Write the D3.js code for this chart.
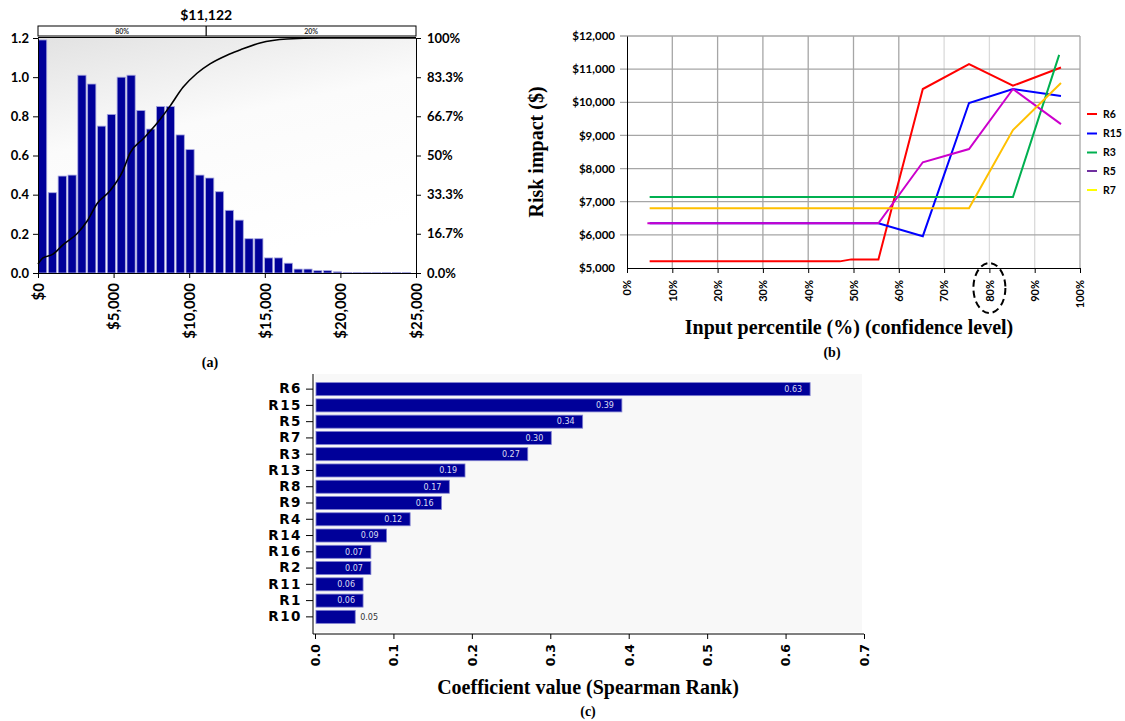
<!DOCTYPE html>
<html>
<head>
<meta charset="utf-8">
<script src="https://cdn.jsdelivr.net/npm/d3@7"></script>
<style>
  html, body { margin: 0; padding: 0; background: #fff; }
  svg { display: block; }
</style>
</head>
<body>
<svg id="fig" width="1125" height="721"></svg>
<script>
// ---------- Panel (a): simulated total risk cost distribution ----------
const histBinWidth = 650;               // $ per histogram bin
const histValues = [1.19, 0.41, 0.495, 0.50, 1.01, 0.965, 0.75, 0.81, 1.00, 1.01,
                    0.83, 0.735, 0.85, 0.85, 0.705, 0.63, 0.50, 0.485, 0.415, 0.32,
                    0.27, 0.175, 0.175, 0.077, 0.077, 0.05, 0.02, 0.02, 0.012, 0.012,
                    0.006, 0.003, 0.003, 0.003, 0.003, 0.003, 0.003, 0.003];
const cdfCost = [0, 331, 992, 1653, 2579, 3241, 3902, 4762, 5622, 6085, 6944, 7870,
                 8730, 9590, 10516, 11376, 12500, 13360, 14683, 16468, 18651, 25000];
const cdfPct  = [3.8, 6.4, 8, 12, 16.7, 22, 29.5, 35, 43.6, 51, 57, 63.7,
                 71, 79, 85, 89, 92.7, 94.9, 97.9, 99.6, 100, 100];
const costTicks = [0, 5000, 10000, 15000, 20000, 25000];
const densityTicks = [0, 0.2, 0.4, 0.6, 0.8, 1.0, 1.2];
const cumTicks = [0, 16.7, 33.3, 50, 66.7, 83.3, 100];
const cumTickLabels = ["0.0%", "16.7%", "33.3%", "50%", "66.7%", "83.3%", "100%"];
const delimiterValue = 11122;
const delimiterLabels = ["80%", "20%"];

// ---------- Panel (b): risk impact vs input percentile ----------
const risks = ["R6", "R15", "R3", "R5", "R7"];
const riskPct = {
  R6:  [5, 47, 49.5, 55.5, 65.3, 75.5, 85.2, 95.8],
  R15: [5, 55.5, 65.3, 75.5, 85.2, 95.8],
  R3:  [5, 85.2, 95.4],
  R5:  [4.5, 55.5, 65.3, 75.5, 85.2, 95.8],
  R7:  [5, 75.5, 85.2, 95.8]
};
const riskImpact = {
  R6:  [5200, 5200, 5260, 5260, 10400, 11150, 10500, 11050],
  R15: [6350, 6350, 5960, 9980, 10400, 10190],
  R3:  [7140, 7140, 11430],
  R5:  [6350, 6350, 8190, 8590, 10400, 9340],
  R7:  [6800, 6800, 9160, 10580]
};
const lineColors   = { R6: "#ff0000", R15: "#0000ff", R3: "#00b050", R5: "#cc00cc", R7: "#ffc000" };
const legendColors = { R6: "#ff0000", R15: "#0000ff", R3: "#00b050", R5: "#7030a0", R7: "#ffff00" };
const pctTicks = [0, 10, 20, 30, 40, 50, 60, 70, 80, 90, 100];
const impactTicks = [5000, 6000, 7000, 8000, 9000, 10000, 11000, 12000];
const highlightPct = 80;

// ---------- Panel (c): Spearman rank coefficients ----------
const sensRisks = ["R6", "R15", "R5", "R7", "R3", "R13", "R8", "R9", "R4", "R14", "R16", "R2", "R11", "R1", "R10"];
const sensValues = [0.63, 0.39, 0.34, 0.30, 0.27, 0.19, 0.17, 0.16, 0.12, 0.09, 0.07, 0.07, 0.06, 0.06, 0.05];
const coefTicks = [0, 0.1, 0.2, 0.3, 0.4, 0.5, 0.6, 0.7];

const svg = d3.select("#fig");
const defs = svg.append("defs");
const SANS = "Lato, 'Open Sans', sans-serif";
const SERIF = "'Times New Roman', 'Liberation Serif', Times, serif";
const NAVY = "#000099";

function styleAxis(g, size, color) {
  g.select(".domain").attr("stroke", color || "#000");
  g.selectAll(".tick line").attr("stroke", color || "#000");
  g.selectAll(".tick text").attr("fill", "#000")
    .style("font-family", SANS).style("font-weight", "bold").style("font-size", size + "px");
}

function serifText(g, x, y, size, str, rotate) {
  const t = g.append("text").attr("text-anchor", "middle")
    .attr("font-family", SERIF).attr("font-weight", "bold").attr("font-size", size)
    .text(str);
  if (rotate) t.attr("transform", `translate(${x},${y}) rotate(-90)`);
  else t.attr("x", x).attr("y", y);
  return t;
}

// ======================= Panel (a) =======================
(function () {
  const x = d3.scaleLinear().domain([0, 25000]).range([38, 416]);
  const y = d3.scaleLinear().domain([0, 1.2]).range([273, 38]);
  const yCum = d3.scaleLinear().domain([0, 100]).range([273, 38]);
  const g = svg.append("g");

  const grad = defs.append("linearGradient").attr("id", "bgA")
    .attr("x1", "0").attr("y1", "0").attr("x2", "0.35").attr("y2", "1");
  grad.append("stop").attr("offset", "0%").attr("stop-color", "#e2e2e2");
  grad.append("stop").attr("offset", "45%").attr("stop-color", "#fbfbfb");
  grad.append("stop").attr("offset", "100%").attr("stop-color", "#ffffff");
  g.append("rect").attr("x", x(0)).attr("y", y(1.2)).attr("width", x(25000) - x(0))
    .attr("height", y(0) - y(1.2)).attr("fill", "url(#bgA)");

  // histogram
  g.selectAll("rect.bin").data(histValues).join("rect").attr("class", "bin")
    .attr("x", (d, i) => x(i * histBinWidth) + 0.5)
    .attr("width", (d, i) => x((i + 1) * histBinWidth) - x(i * histBinWidth) - 1.6)
    .attr("y", d => y(d)).attr("height", d => y(0) - y(d))
    .attr("fill", NAVY).attr("stroke", "#a7a7e0").attr("stroke-width", 0.8);

  // cumulative curve
  const cdf = cdfCost.map((c, i) => [c, cdfPct[i]]);
  g.append("path").datum(cdf)
    .attr("d", d3.line().x(d => x(d[0])).y(d => yCum(d[1])).curve(d3.curveMonotoneX))
    .attr("fill", "none").attr("stroke", "#000").attr("stroke-width", 1.6);

  // axes
  const ax = g.append("g").attr("transform", `translate(0,${y(0)})`)
    .call(d3.axisBottom(x).tickValues(costTicks).tickSize(5).tickFormat(d => "$" + d3.format(",")(d)));
  styleAxis(ax, 15);
  ax.selectAll(".tick text").attr("transform", "rotate(-90)").attr("x", -10).attr("y", 0)
    .attr("dy", "0.35em").style("text-anchor", "end");

  const ay = g.append("g").attr("transform", `translate(${x(0)},0)`)
    .call(d3.axisLeft(y).tickValues(densityTicks).tickSize(5).tickPadding(4).tickFormat(d3.format(".1f")));
  styleAxis(ay, 13);

  const ar = g.append("g").attr("transform", `translate(${x(25000)},0)`)
    .call(d3.axisRight(yCum).tickValues(cumTicks).tickSize(5).tickPadding(6)
      .tickFormat((d, i) => cumTickLabels[i]));
  styleAxis(ar, 13);

  // delimiter strip
  const xd = x(delimiterValue);
  g.append("rect").attr("x", x(0)).attr("y", 26).attr("width", x(25000) - x(0)).attr("height", 10)
    .attr("fill", "#fff").attr("stroke", "#000").attr("stroke-width", 1);
  g.append("line").attr("x1", xd).attr("x2", xd).attr("y1", 26).attr("y2", 36)
    .attr("stroke", "#000").attr("stroke-width", 1.2);
  g.append("line").attr("x1", x(0)).attr("x2", x(25000)).attr("y1", 37.5).attr("y2", 37.5)
    .attr("stroke", "#000").attr("stroke-width", 1);
  [[x(0), xd], [xd, x(25000)]].forEach((seg, i) => {
    g.append("text").attr("x", (seg[0] + seg[1]) / 2).attr("y", 34).attr("text-anchor", "middle")
      .style("font-family", SANS).style("font-size", "7px").style("font-weight", "bold").attr("fill", "#333")
      .text(delimiterLabels[i]);
  });
  g.append("text").attr("x", xd).attr("y", 20).attr("text-anchor", "middle")
    .style("font-family", SANS).style("font-size", "14px").style("font-weight", "bold")
    .text("$" + d3.format(",")(delimiterValue));

  serifText(g, 210, 367, 14, "(a)");
})();

// ======================= Panel (b) =======================
(function () {
  const x = d3.scaleLinear().domain([0, 100]).range([627, 1080]);
  const y = d3.scaleLinear().domain([5000, 12000]).range([268, 36]);
  const g = svg.append("g");

  // gridlines
  g.selectAll("line.vg").data(pctTicks.slice(1)).join("line").attr("class", "vg")
    .attr("x1", d => x(d)).attr("x2", d => x(d)).attr("y1", y(12000)).attr("y2", y(5000))
    .attr("stroke", d => (d >= 70 && d < 100) ? "#dadada" : "#a6a6a6").attr("stroke-width", 1.3);
  g.selectAll("line.hg").data(impactTicks.slice(1)).join("line").attr("class", "hg")
    .attr("x1", x(0) - 7).attr("x2", x(100)).attr("y1", d => y(d)).attr("y2", d => y(d))
    .attr("stroke", "#a6a6a6").attr("stroke-width", 1.3);

  // series
  risks.forEach(r => {
    const pts = riskPct[r].map((p, i) => [p, riskImpact[r][i]]);
    g.append("path").datum(pts)
      .attr("d", d3.line().x(d => x(d[0])).y(d => y(d[1])))
      .attr("fill", "none").attr("stroke", lineColors[r]).attr("stroke-width", 2);
  });

  // axes
  const ax = g.append("g").attr("transform", `translate(0,${y(5000)})`)
    .call(d3.axisBottom(x).tickValues(pctTicks).tickSize(5).tickFormat(d => d + "%"));
  styleAxis(ax, 11);
  ax.selectAll(".tick text").attr("transform", "rotate(-90)").attr("x", -12).attr("y", 0)
    .attr("dy", "0.35em").style("text-anchor", "end");

  const ay = g.append("g").attr("transform", `translate(${x(0)},0)`)
    .call(d3.axisLeft(y).tickValues(impactTicks).tickSize(0).tickPadding(12)
      .tickFormat(d => "$" + d3.format(",")(d)));
  styleAxis(ay, 11.5);

  // highlighted percentile
  g.append("ellipse").attr("cx", x(highlightPct)).attr("cy", 288).attr("rx", 16).attr("ry", 25)
    .attr("fill", "none").attr("stroke", "#000").attr("stroke-width", 2).attr("stroke-dasharray", "7,4");

  // legend
  const lg = g.append("g");
  risks.forEach((r, i) => {
    const ly = [114, 133.5, 152.5, 171, 190][i];
    lg.append("line").attr("x1", 1087).attr("x2", 1097).attr("y1", ly).attr("y2", ly)
      .attr("stroke", legendColors[r]).attr("stroke-width", 2);
    lg.append("text").attr("x", 1103).attr("y", ly).attr("dy", "0.35em")
      .style("font-family", SANS).style("font-size", "10.5px").style("font-weight", "bold").text(r);
  });

  // titles
  serifText(g, 543, 152, 20, "Risk impact ($)", true);
  serifText(g, 849, 334, 20, "Input percentile (%) (confidence level)");
  serifText(g, 832, 357, 14, "(b)");
})();

// ======================= Panel (c) =======================
(function () {
  const x = d3.scaleLinear().domain([0, 0.7]).range([315, 864]);
  const y = d3.scaleBand().domain(sensRisks).range([381, 625]).paddingInner(0.2).paddingOuter(0.1);
  const g = svg.append("g");

  g.append("rect").attr("x", 315).attr("y", 374).attr("width", 547).attr("height", 258)
    .attr("fill", "#f8f8f8");

  const data = sensRisks.map((r, i) => ({ r, v: sensValues[i] }));
  g.selectAll("rect.bar").data(data).join("rect").attr("class", "bar")
    .attr("x", x(0) + 1).attr("y", d => y(d.r)).attr("height", y.bandwidth())
    .attr("width", d => x(d.v) - x(0))
    .attr("fill", NAVY).attr("stroke", "#7f7fd0").attr("stroke-width", 0.8);

  g.selectAll("text.val").data(data).join("text").attr("class", "val")
    .attr("x", d => d.r === "R10" ? x(d.v) + 6 : x(d.v) - 7)
    .attr("y", d => y(d.r) + y.bandwidth() / 2).attr("dy", "0.35em")
    .attr("text-anchor", d => d.r === "R10" ? "start" : "end")
    .attr("fill", d => d.r === "R10" ? "#333" : "#dcdcf2")
    .style("font-family", "'DejaVu Sans', sans-serif").style("font-size", "8px")
    .text(d => d3.format(".2f")(d.v));

  const ay = g.append("g").attr("transform", `translate(313,0)`)
    .call(d3.axisLeft(y).tickSize(7).tickPadding(4).tickSizeOuter(0));
  styleAxis(ay, 13.5);
  ay.select(".domain").attr("d", "M0,374V634");
  ay.selectAll(".tick text").style("font-family", "'DejaVu Sans', sans-serif").style("letter-spacing", "1.5px");

  const ax = g.append("g").attr("transform", `translate(0,634)`)
    .call(d3.axisBottom(x).tickValues(coefTicks).tickSize(5).tickSizeOuter(0).tickFormat(d3.format(".1f")));
  styleAxis(ax, 12.5);
  ax.select(".domain").attr("d", "M313,0H864");
  ax.selectAll(".tick text").style("font-family", "'DejaVu Sans', sans-serif")
    .attr("transform", "rotate(-90)").attr("x", -10).attr("y", 0)
    .attr("dy", "0.35em").style("text-anchor", "end");

  serifText(g, 588, 694, 20, "Coefficient value (Spearman Rank)");
  serifText(g, 588, 716, 14, "(c)");
})();
</script>
</body>
</html>
